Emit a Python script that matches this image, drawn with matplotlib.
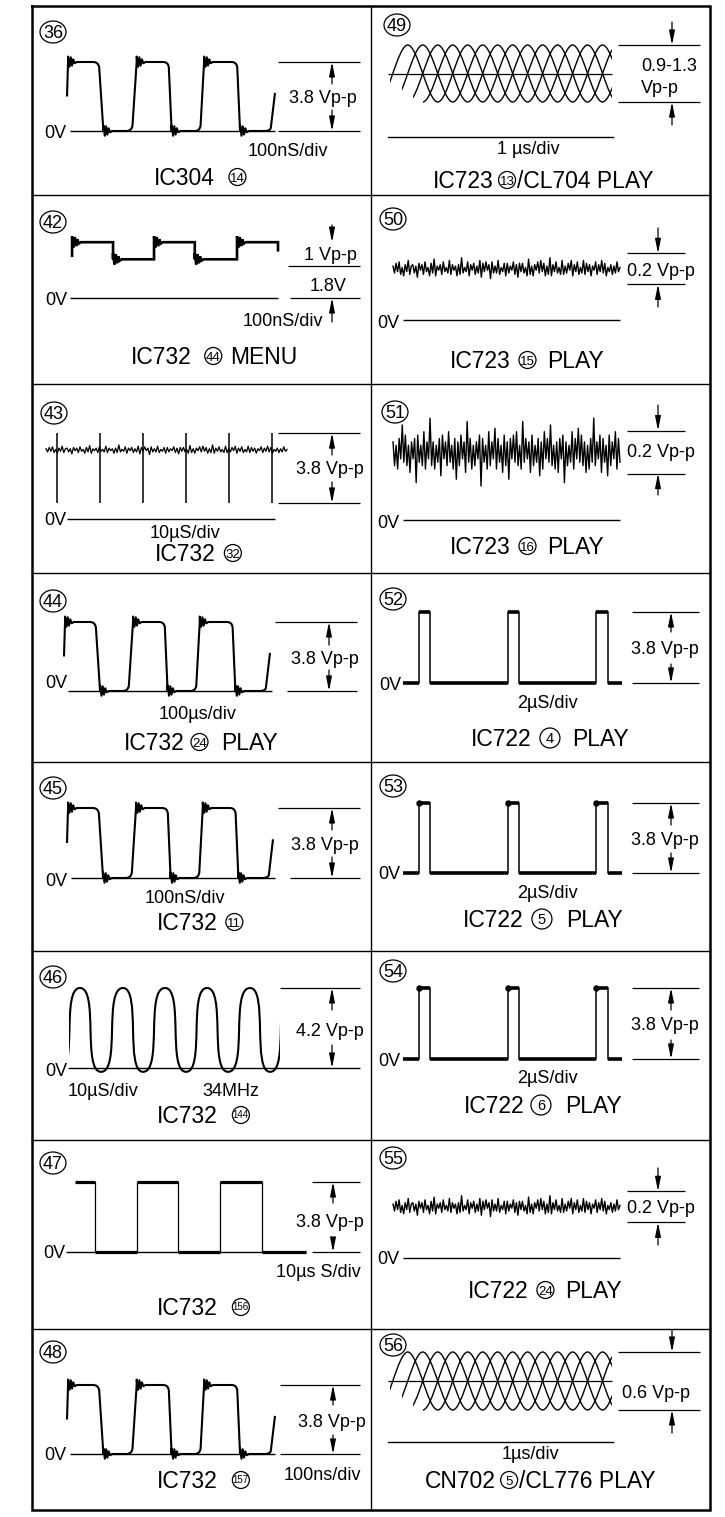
import matplotlib
matplotlib.use("Agg")
import matplotlib.pyplot as plt
import matplotlib.transforms as mtransforms
from matplotlib.path import Path
from matplotlib.patches import PathPatch, Ellipse, Rectangle
import numpy as np

plt.rcParams['font.family'] = ['Liberation Sans', 'DejaVu Sans']

# ===================== DATA (time in div, level in V) =====================
# clock-type waveform (panels 36, 44, 45, 48)
clk_vpp = 3.8
clk_v_start = 1.9
clk_v_end = 2.1
clk_rise_t0 = [0.00, 3.11, 6.39, 9.76]
clk_rise_t1 = [0.05, 3.35, 6.59, 10.00]
clk_fall_t0 = [1.51, 4.87, 8.16]
clk_fall_t1 = [1.75, 5.03, 8.32]
ring_dt = [0.00, 0.07, 0.13, 0.19, 0.25, 0.32, 0.42]
ring_dv = [0.30, -0.26, 0.26, -0.20, 0.15, -0.07, 0.00]

# panel 42 (MENU)
menu_v_high = 3.1
menu_v_low = 2.15
menu_v_start = 2.35
menu_v_end = 2.65
menu_rise_t = [0.10, 4.04, 8.03]
menu_fall_t = [2.07, 6.00]
menu_t_end = 10.0

# panel 43
sync_spike_t = [0.46, 2.24, 4.02, 5.81, 7.59, 9.38]
sync_v_low = 0.87
sync_v_high = 4.67
sync_noise_v = 3.75
sync_noise_gain = 0.035

# panel 46
hump_peak_t = [0.52, 2.56, 4.55, 6.54, 8.58, 10.55]
hump_trough_t = [-0.48, 1.52, 3.51, 5.55, 7.54, 9.53]
hump_v_peak = 4.2
hump_v_trough = -0.2

# panel 47
gate_v_high = 3.8
gate_fall_t = [0.87, 4.46, 8.10]
gate_rise_t = [2.68, 6.28]

# panels 52, 53, 54
hd_v_high = 3.8
hd_rise_t = [0.73, 4.79, 8.81]
hd_fall_t = [1.23, 5.30, 9.36]

# panels 49, 56 (overlaid sine traces)
eye_amp = 0.55
eye_trough_t = [-0.55, 2.15, 4.85, 7.55, 10.25]
eye_peak_t = [0.80, 3.50, 6.20, 8.90, 11.60]
eye_shift = [0.0, 0.675, 1.35, 2.025]
eye_start = [0.0, 0.53, 1.04, 1.49]

# noise traces (panels 50, 55, 43 use noise_a ; panel 51 uses noise_b)
noise_a = [2, -3, 4, -2, 5, -4, 1, -5, 3, -2, 6, -4, 2, 3, -3, 2, -6, 4, -1, 3,
           -4, 5, -2, 1, -5, 4, -3, 7, -5, 2, -1, 3, -4, 5, -2, 1, -3, 6, -4, 3,
           -1, 2, -5, 3, -4, 8, -3, 1, -2, 5, -5, 3, -1, 4, -4, 2, -3, 6, -6, 4,
           -2, 5, -1, 3, -7, 5, -3, 2, -3, 6, -4, 1, -2, 4, -5, 4, -3, 2, -1, 5,
           -4, 3, -6, 4, -2, 4, -3, 1, -5, 7, -4, 2, -5, 3, -1, 5, -3, 6, -2, 4,
           -5, 2, -4, 8, -5, 3, -2, 5, -3, 1, -4, 6, -4, 2, -3, 4, -1, 6, -5, 3,
           -2, 5, -4, 1, -3, 6, -4, 4, -2, 3, -5, 2, -1, 5, -4, 3, -2, 6, -3, 4,
           -5, 1, -2, 3, -4, 2, -3, 5, -2, 1]
noise_b = [3, -4, 2, -5, 4, -2, 8, -3, 5, -4, 2, -6, 3, -2, 4, -9, 5, -3, 2, -4,
           6, -5, 3, -2, 10, -4, 3, -5, 2, -3, 4, -7, 5, -2, 3, -4, 6, -3, 2, -5,
           4, -8, 3, -4, 5, -2, 3, -6, 9, -3, 4, -5, 2, -4, 3, -2, 5, -10, 4, -3,
           2, -5, 6, -4, 3, -2, 7, -5, 4, -3, 2, -6, 5, -4, 3, -8, 4, -2, 5, -3,
           6, -4, 2, -5, 9, -3, 4, -2, 3, -6, 5, -4, 2, -3, 4, -7, 3, -5, 6, -2,
           4, -3, 8, -4, 2, -5, 3, -6, 4, -2, 5, -9, 3, -4, 2, -3, 6, -5, 4, -2,
           7, -3, 5, -4, 3, -6, 2, -5, 4, -3, 10, -4, 3, -2, 5, -6, 4, -3, 2, -7,
           5, -4, 3, -2, 6, -5, 4, -3]
play_noise_v = 0.33
play_noise_gain = 0.009
play2_noise_v = 0.316
play2_noise_gain = 0.0158

# ===================== LAYOUT =====================
W, H = 725, 1517
fig = plt.figure(figsize=(W / 100, H / 100), dpi=100)
base = fig.add_axes([0, 0, 1, 1])
base.set_xlim(0, W)
base.set_ylim(H, 0)
base.axis('off')
REN = fig.canvas.get_renderer()

X_L, X_M, X_R = 32, 371, 710
ROWS = [6, 195, 384, 573, 762, 951, 1140, 1329, 1510]
FS_ANN = 13
FS_LAB = 16.5
BL = 0.35 * 100 / 72

base.plot([X_L, X_R, X_R, X_L, X_L], [ROWS[0], ROWS[0], ROWS[-1], ROWS[-1], ROWS[0]],
          color='k', lw=1.8, solid_joinstyle='miter')
base.plot([X_M, X_M], [ROWS[0], ROWS[-1]], color='k', lw=1.0)
for yy in ROWS[1:-1]:
    base.plot([X_L, X_R], [yy, yy], color='k', lw=1.0)


def cellL(i):
    return (X_L, ROWS[i], X_M, ROWS[i + 1])


def cellR(i):
    return (X_M, ROWS[i], X_R, ROWS[i + 1])


def wave_axes(cell, xmap, ymap):
    L, T, Rr, B = cell
    (px0, t0), (px1, t1) = xmap
    (py0, v0), (py1, v1) = ymap
    sx = (t1 - t0) / (px1 - px0)
    sy = (v1 - v0) / (py1 - py0)
    ax = fig.add_axes([L / W, 1 - B / H, (Rr - L) / W, (B - T) / H])
    ax.set_xlim(t0 + (L - px0) * sx, t0 + (Rr - px0) * sx)
    ax.set_ylim(v0 + (B - py0) * sy, v0 + (T - py0) * sy)
    ax.axis('off')
    return ax


def blend(ax):
    return mtransforms.blended_transform_factory(base.transData, ax.transData)


def level_line(ax, v, x0, x1, lw=0.9):
    ax.plot([x0, x1], [v, v], transform=blend(ax), color='k', lw=lw, solid_capstyle='butt')


AP = dict(arrowstyle='-|>,head_length=0.85,head_width=0.17', color='k', lw=0.9,
          shrinkA=0, shrinkB=0, mutation_scale=10)


def dim_arrow(ax, x, v_tip, y_tail):
    base.annotate('', xy=(x, v_tip), xycoords=blend(ax), xytext=(x, y_tail),
                  textcoords='data', arrowprops=AP)


def txt(x, yc, s, size=FS_ANN, ha='center'):
    base.text(x, yc + BL * size, s, fontsize=size, ha=ha, va='baseline', color='k')


def circ(xc, yc, s, w, h, size):
    base.add_patch(Ellipse((xc, yc), w, h, fill=False, lw=0.9, ec='k'))
    base.text(xc, yc + BL * size, s, fontsize=size, ha='center', va='baseline')


def tag(xc, yc, s):
    circ(xc, yc, s, 26, 22, 13)


def text_w(s, size):
    t = base.text(0, 0, s, fontsize=size)
    w = t.get_window_extent(renderer=REN).width
    t.remove()
    return w


def label(cx, yc, parts):
    items = []
    total = 0.0
    for p in parts:
        if isinstance(p, str):
            w = text_w(p, FS_LAB)
            items.append(('t', p, w))
        elif p[0] == 'g':
            w = p[1]
            items.append(('g', None, w))
        else:
            d = p[2] if len(p) > 2 else 17
            fs = p[3] if len(p) > 3 else 9.5
            w = d
            items.append(('c', (p[1], d, fs), w))
        total += w
    x = cx - total / 2
    for kind, val, w in items:
        if kind == 't':
            base.text(x, yc + BL * FS_LAB, val, fontsize=FS_LAB, ha='left', va='baseline')
        elif kind == 'c':
            circ(x + w / 2, yc, val[0], val[1], val[1], val[2])
        x += w


# ---------- waveform builders ----------
def clock_path(rt=0.25, f=0.08):
    ev = [(a, b, 'r') for a, b in zip(clk_rise_t0, clk_rise_t1)] + \
         [(a, b, 'f') for a, b in zip(clk_fall_t0, clk_fall_t1)]
    ev.sort()
    verts, codes = [], []
    for i, (t0, t1, k) in enumerate(ev):
        lo, hi = (0.0, clk_vpp) if k == 'r' else (clk_vpp, 0.0)
        last = i == len(ev) - 1
        end_v = clk_v_end if last else hi
        if i == 0:
            verts.append((t0, clk_v_start)); codes.append(Path.MOVETO)
        else:
            verts.append((t0 - rt, lo)); codes.append(Path.LINETO)
            verts += [(t0, lo), (t0 + (t1 - t0) * f * 2, lo + (end_v - lo) * f)]
            codes += [Path.CURVE3, Path.CURVE3]
        verts.append((t1, end_v)); codes.append(Path.LINETO)
        if not last:
            for dt, dv in zip(ring_dt, ring_dv):
                verts.append((t1 + dt, hi + dv)); codes.append(Path.LINETO)
    return Path(verts, codes)


def draw_clock(ax):
    ax.add_patch(PathPatch(clock_path(), fill=False, ec='k', lw=1.5, joinstyle='round'))


def s_path(ext, c):
    verts = [ext[0]]
    codes = [Path.MOVETO]
    for (ta, va), (tb, vb) in zip(ext[:-1], ext[1:]):
        d = tb - ta
        verts += [(ta + c * d, va), (tb - c * d, vb), (tb, vb)]
        codes += [Path.CURVE4] * 3
    return Path(verts, codes)


def draw_eye(ax):
    for sh, st in zip(eye_shift, eye_start):
        ext = sorted([(t + sh, -eye_amp) for t in eye_trough_t] +
                     [(t + sh, eye_amp) for t in eye_peak_t])
        p = PathPatch(s_path(ext, 1 / 3), fill=False, ec='k', lw=1.0)
        ax.add_patch(p)
        p.set_clip_path(Rectangle((st, -5 * eye_amp), 10 - st, 10 * eye_amp,
                                  transform=ax.transData))


def draw_humps(ax):
    ext = sorted([(t, hump_v_peak) for t in hump_peak_t] +
                 [(t, hump_v_trough) for t in hump_trough_t])
    p = PathPatch(s_path(ext, 0.9), fill=False, ec='k', lw=1.5)
    ax.add_patch(p)
    p.set_clip_path(Rectangle((0, -10), 10, 20, transform=ax.transData))


def draw_menu(ax):
    ts, vs = [], []
    events = sorted([(t, 'r') for t in menu_rise_t] + [(t, 'f') for t in menu_fall_t])
    for i, (t, k) in enumerate(events):
        to = menu_v_high if k == 'r' else menu_v_low
        frm = menu_v_start if i == 0 else (menu_v_low if k == 'r' else menu_v_high)
        ts += [t, t]; vs += [frm, to]
        for dt, dv in zip(ring_dt, ring_dv):
            ts.append(t + dt); vs.append(to + 1.1 * dv)
    ts += [menu_t_end, menu_t_end]; vs += [menu_v_high, menu_v_end]
    ax.plot(ts, vs, color='k', lw=1.9, solid_joinstyle='miter')


def draw_noise(ax, vals, center, gain, lw=1.0):
    t = np.linspace(0, 10, len(vals))
    ax.plot(t, center + gain * np.array(vals), color='k', lw=lw)


def pulse_train(ax, rise_t, fall_t, vh, start_high, lw_h, lw_v, dots=False):
    edges = sorted([(t, 'r') for t in rise_t] + [(t, 'f') for t in fall_t])
    level = vh if start_high else 0.0
    t_prev = 0.0
    for t, k in edges:
        ax.plot([t_prev, t], [level, level], color='k', lw=lw_h, solid_capstyle='butt')
        ax.plot([t, t], [0, vh], color='k', lw=lw_v)
        level = vh if k == 'r' else 0.0
        t_prev = t
    ax.plot([t_prev, 10], [level, level], color='k', lw=lw_h, solid_capstyle='butt')
    if dots:
        ax.plot(rise_t, [vh] * len(rise_t), 'o', ms=3.6, color='k')


# ===================== PANELS =====================
# --- 36 ---
ax = wave_axes(cellL(0), ((67, 0), (275, 10)), ((131, 0), (62, clk_vpp)))
draw_clock(ax)
level_line(ax, 0, 70, 275, lw=1.0)
level_line(ax, clk_vpp, 278, 360)
level_line(ax, 0, 278, 360)
dim_arrow(ax, 332, clk_vpp, 84)
dim_arrow(ax, 332, 0, 110)
txt(66, 132, '0V', ha='right')
txt(323, 97, '3.8 Vp-p')
txt(288, 150, '100nS/div')
tag(53, 32, '36')
label(200, 177, ['IC304', ('g', 14), ('c', '14')])

# --- 49 ---
ax = wave_axes(cellR(0), ((390, 0), (612, 10)), ((102, -eye_amp), (45, eye_amp)))
draw_eye(ax)
level_line(ax, 0, 388, 612, lw=0.9)
base.plot([388, 613], [137, 137], color='k', lw=1.0)
level_line(ax, eye_amp, 618, 700)
level_line(ax, -eye_amp, 618, 700)
dim_arrow(ax, 672, eye_amp, 22)
dim_arrow(ax, 672, -eye_amp, 125)
txt(641, 65, '0.9-1.3', ha='left')
txt(641, 87, 'Vp-p', ha='left')
txt(528, 148, '1 µs/div')
tag(397, 25, '49')
label(543, 180, ['IC723', ('g', 5), ('c', '13'), ('g', 1), '/CL704 PLAY'])

# --- 42 ---
ax = wave_axes(cellL(1), ((70, 0), (278, 10)), ((298, 0), (280, 1.0)))
draw_menu(ax)
level_line(ax, 0, 70, 278, lw=1.0)
level_line(ax, 1.8, 288, 360)
level_line(ax, 0, 290, 360)
dim_arrow(ax, 332, menu_v_high, 225)
dim_arrow(ax, 332, 0, 322)
txt(67, 299, '0V', ha='right')
txt(330, 254, '1 Vp-p')
txt(328, 285, '1.8V')
txt(283, 320, '100nS/div')
tag(53, 222, '42')
label(214, 356, ['IC732', ('g', 13), ('c', '44'), ('g', 8), 'MENU'])

# --- 50 ---
ax = wave_axes(cellR(1), ((393, 0), (620, 10)), ((320, 0), (289, 0.2)))
draw_noise(ax, noise_a, play_noise_v, play_noise_gain)
level_line(ax, 0, 403, 620, lw=1.0)
level_line(ax, play_noise_v + 0.1, 627, 685)
level_line(ax, play_noise_v - 0.1, 627, 685)
dim_arrow(ax, 658, play_noise_v + 0.1, 228)
dim_arrow(ax, 658, play_noise_v - 0.1, 307)
txt(399, 322, '0V', ha='right')
txt(661, 270, '0.2 Vp-p')
tag(393, 219, '50')
label(527, 360, ['IC723', ('g', 8), ('c', '15'), ('g', 11), 'PLAY'])

# --- 43 ---
ax = wave_axes(cellL(2), ((46, 0), (287, 10)), ((519, 0), (449.1, 3.8)))
draw_noise(ax, noise_a, sync_noise_v, sync_noise_gain, lw=0.9)
ax.vlines(sync_spike_t, sync_v_low, sync_v_high, color='k', lw=1.1)
level_line(ax, 0, 67, 275, lw=1.0)
level_line(ax, sync_v_high, 278, 360)
level_line(ax, sync_v_low, 278, 360)
dim_arrow(ax, 332, sync_v_high, 455)
dim_arrow(ax, 332, sync_v_low, 482)
txt(66, 519, '0V', ha='right')
txt(330, 468, '3.8 Vp-p')
txt(185, 532, '10µS/div')
tag(54, 413, '43')
label(198, 553, ['IC732', ('g', 9), ('c', '32')])

# --- 51 ---
ax = wave_axes(cellR(2), ((393, 0), (620, 10)), ((520, 0), (477, 0.2)))
draw_noise(ax, noise_b, play2_noise_v, play2_noise_gain, lw=1.0)
level_line(ax, 0, 403, 620, lw=1.0)
level_line(ax, play2_noise_v + 0.1, 627, 685)
level_line(ax, play2_noise_v - 0.1, 627, 685)
dim_arrow(ax, 658, play2_noise_v + 0.1, 405)
dim_arrow(ax, 658, play2_noise_v - 0.1, 495)
txt(399, 522, '0V', ha='right')
txt(661, 451, '0.2 Vp-p')
tag(395, 412, '51')
label(527, 546, ['IC723', ('g', 8), ('c', '16'), ('g', 11), 'PLAY'])

# --- 44 ---
ax = wave_axes(cellL(3), ((64, 0), (270, 10)), ((691, 0), (622, clk_vpp)))
draw_clock(ax)
level_line(ax, 0, 68, 272, lw=1.0)
level_line(ax, clk_vpp, 275, 357)
level_line(ax, 0, 287, 357)
dim_arrow(ax, 329, clk_vpp, 645)
dim_arrow(ax, 329, 0, 670)
txt(67, 682, '0V', ha='right')
txt(325, 658, '3.8 Vp-p')
txt(198, 713, '100µs/div')
tag(53, 601, '44')
label(201, 742, ['IC732', ('g', 6), ('c', '24'), ('g', 13), 'PLAY'])

# --- 52 ---
ax = wave_axes(cellR(3), ((403, 0), (622, 10)), ((683, 0), (612, hd_v_high)))
pulse_train(ax, hd_rise_t, hd_fall_t, hd_v_high, False, 2.6, 1.1)
level_line(ax, hd_v_high, 632, 699)
level_line(ax, 0, 632, 699)
dim_arrow(ax, 671, hd_v_high, 632)
dim_arrow(ax, 671, 0, 664)
txt(401, 684, '0V', ha='right')
txt(665, 648, '3.8 Vp-p')
txt(547, 702, '2µS/div')
tag(393, 599, '52')
label(550, 738, ['IC722', ('g', 8), ('c', '4', 20, 10.5), ('g', 12), 'PLAY'])

# --- 45 ---
ax = wave_axes(cellL(4), ((67, 0), (273, 10)), ((878, 0), (808, clk_vpp)))
draw_clock(ax)
level_line(ax, 0, 71, 275, lw=1.0)
level_line(ax, clk_vpp, 278, 360)
level_line(ax, 0, 290, 360)
dim_arrow(ax, 332, clk_vpp, 830)
dim_arrow(ax, 332, 0, 857)
txt(67, 880, '0V', ha='right')
txt(325, 844, '3.8 Vp-p')
txt(185, 897, '100nS/div')
tag(53, 788, '45')
label(200, 922, ['IC732', ('g', 8), ('c', '11')])

# --- 53 ---
ax = wave_axes(cellR(4), ((403, 0), (622, 10)), ((873, 0), (803, hd_v_high)))
pulse_train(ax, hd_rise_t, hd_fall_t, hd_v_high, False, 2.6, 1.1, dots=True)
level_line(ax, hd_v_high, 632, 699)
level_line(ax, 0, 632, 699)
dim_arrow(ax, 671, hd_v_high, 825)
dim_arrow(ax, 671, 0, 853)
txt(400, 873, '0V', ha='right')
txt(665, 839, '3.8 Vp-p')
txt(547, 892, '2µS/div')
tag(393, 786, '53')
label(543, 919, ['IC722', ('g', 8), ('c', '5', 20, 10.5), ('g', 14), 'PLAY'])

# --- 46 ---
ax = wave_axes(cellL(5), ((69, 0), (280, 10)), ((1068, 0), (988, hump_v_peak)))
draw_humps(ax)
level_line(ax, 0, 68, 360, lw=1.0)
level_line(ax, hump_v_peak, 280, 360)
dim_arrow(ax, 332, hump_v_peak, 1010)
dim_arrow(ax, 332, 0, 1045)
txt(67, 1070, '0V', ha='right')
txt(330, 1030, '4.2 Vp-p')
txt(103, 1090, '10µS/div')
txt(231, 1090, '34MHz')
tag(53, 977, '46')
label(203, 1115, ['IC732', ('g', 15), ('c', '144', 17, 7)])

# --- 54 ---
ax = wave_axes(cellR(5), ((403, 0), (622, 10)), ((1059, 0), (988, hd_v_high)))
pulse_train(ax, hd_rise_t, hd_fall_t, hd_v_high, False, 2.6, 1.1, dots=True)
level_line(ax, hd_v_high, 632, 699)
level_line(ax, 0, 632, 699)
dim_arrow(ax, 671, hd_v_high, 1010)
dim_arrow(ax, 671, 0, 1040)
txt(400, 1060, '0V', ha='right')
txt(665, 1024, '3.8 Vp-p')
txt(547, 1077, '2µS/div')
tag(393, 971, '54')
label(543, 1105, ['IC722', ('g', 6), ('c', '6', 20, 10.5), ('g', 14), 'PLAY'])

# --- 47 ---
ax = wave_axes(cellL(6), ((75, 0), (306, 10)), ((1252, 0), (1182, gate_v_high)))
pulse_train(ax, gate_rise_t, gate_fall_t, gate_v_high, True, 2.3, 0.9)
level_line(ax, 0, 66, 306, lw=1.0)
level_line(ax, gate_v_high, 312, 360)
level_line(ax, 0, 312, 360)
dim_arrow(ax, 333, gate_v_high, 1203)
dim_arrow(ax, 333, 0, 1238)
txt(65, 1252, '0V', ha='right')
txt(330, 1221, '3.8 Vp-p')
txt(318, 1271, '10µs S/div')
tag(53, 1163, '47')
label(203, 1307, ['IC732', ('g', 15), ('c', '156', 17, 7)])

# --- 55 ---
ax = wave_axes(cellR(6), ((393, 0), (620, 10)), ((1258, 0), (1227, 0.2)))
draw_noise(ax, noise_a, play_noise_v, play_noise_gain)
level_line(ax, 0, 403, 620, lw=1.0)
level_line(ax, play_noise_v + 0.1, 627, 685)
level_line(ax, play_noise_v - 0.1, 627, 685)
dim_arrow(ax, 658, play_noise_v + 0.1, 1168)
dim_arrow(ax, 658, play_noise_v - 0.1, 1245)
txt(399, 1258, '0V', ha='right')
txt(661, 1207, '0.2 Vp-p')
tag(393, 1158, '55')
label(545, 1290, ['IC722', ('g', 8), ('c', '24'), ('g', 11), 'PLAY'])

# --- 48 ---
ax = wave_axes(cellL(7), ((67, 0), (275, 10)), ((1454, 0), (1385, clk_vpp)))
draw_clock(ax)
level_line(ax, 0, 70, 275, lw=1.0)
level_line(ax, clk_vpp, 280, 360)
level_line(ax, 0, 280, 360)
dim_arrow(ax, 333, clk_vpp, 1405)
dim_arrow(ax, 333, 0, 1435)
txt(66, 1454, '0V', ha='right')
txt(332, 1421, '3.8 Vp-p')
txt(322, 1474, '100ns/div')
tag(53, 1352, '48')
label(203, 1480, ['IC732', ('g', 15), ('c', '157', 17, 7)])

# --- 56 ---
ax = wave_axes(cellR(7), ((390, 0), (612, 10)), ((1410, -eye_amp), (1352, eye_amp)))
draw_eye(ax)
level_line(ax, 0, 388, 612, lw=0.9)
base.plot([388, 613], [1442, 1442], color='k', lw=1.0)
level_line(ax, eye_amp, 618, 700)
level_line(ax, -eye_amp, 618, 700)
dim_arrow(ax, 672, eye_amp, 1330)
dim_arrow(ax, 672, -eye_amp, 1433)
txt(656, 1392, '0.6 Vp-p')
txt(530, 1453, '1µs/div')
tag(393, 1345, '56')
label(540, 1480, ['CN702', ('g', 5), ('c', '5'), ('g', 1), '/CL776 PLAY'])

fig.savefig('out.png', dpi=100)
